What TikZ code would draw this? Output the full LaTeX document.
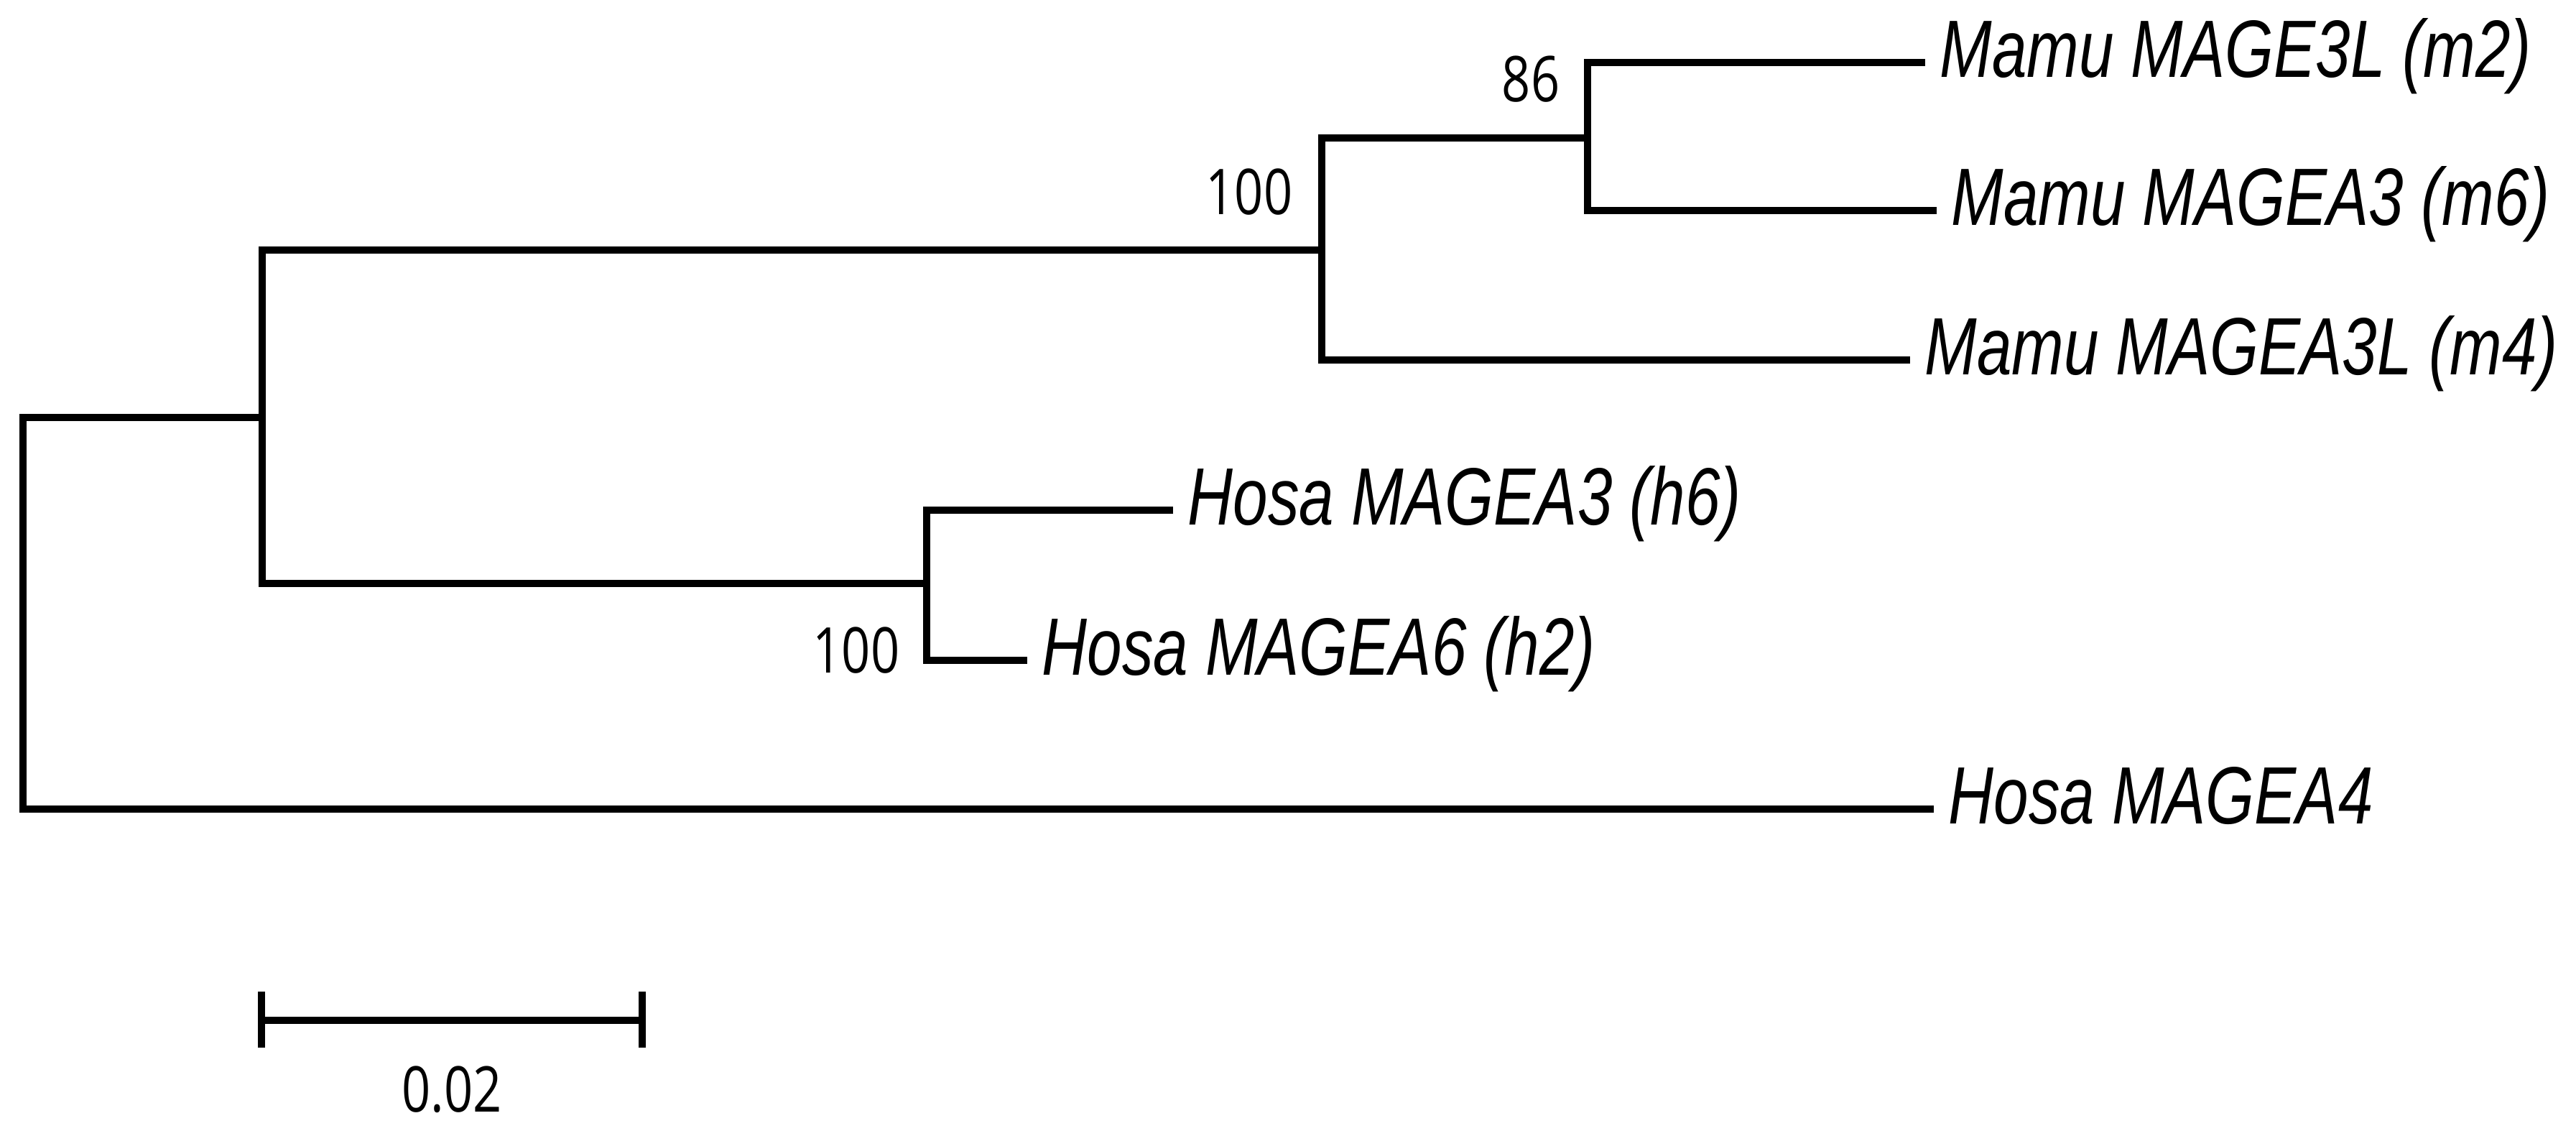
\documentclass[tikz,border=0pt]{standalone}
\usepackage{fontspec}
\usepackage{graphicx}
\usetikzlibrary{positioning}
\newfontfamily\leaffont{Liberation Sans}
\newfontfamily\bootfont{Open Sans}
\newcommand{\leafname}[1]{\scalebox{0.77}[1]{\leaffont\itshape\fontsize{32.2}{38}\selectfont #1}}
\newcommand{\bootval}[1]{\scalebox{0.8}[1]{\bootfont\fontsize{25}{30}\selectfont #1}}
\tikzstyle{branch} = [line width=2.6pt, draw=black]
\tikzstyle{leaf} = [anchor=west, inner xsep=0.2cm, inner ysep=0pt, text height=0.6cm, text depth=0.2cm]
\tikzstyle{boot} = [anchor=east, inner sep=0pt]

\begin{document}
\begin{tikzpicture}
            \useasboundingbox (0,0) rectangle (35.86,-15.73);
            % leaves
            \node (m2) [leaf] at (26.80,-0.87) {\leafname{Mamu MAGE3L (m2)}};
            \node (m6) [leaf] at (26.96,-2.93) {\leafname{Mamu MAGEA3 (m6)}};
            \node (m4) [leaf] at (26.59,-5.01) {\leafname{Mamu MAGEA3L (m4)}};
            \node (h6) [leaf] at (16.33,-7.10) {\leafname{Hosa MAGEA3 (h6)}};
            \node (h2) [leaf] at (14.30,-9.19) {\leafname{Hosa MAGEA6 (h2)}};
            \node (a4) [leaf] at (26.92,-11.26) {\leafname{Hosa MAGEA4}};
            % internal nodes
            \coordinate (mamuin) at (22.10,-1.92);
            \coordinate (mamu) at (18.40,-3.48);
            \coordinate (hosa) at (12.90,-8.12);
            \coordinate (ingroup) at (3.65,-5.81);
            \coordinate (root) at (0.32,-8.53);
            % branches
            \draw[branch] (m2.west) -| (mamuin) |- (m6.west);
            \draw[branch] (mamuin) -| (mamu) |- (m4.west);
            \draw[branch] (h6.west) -| (hosa) |- (h2.west);
            \draw[branch] (mamu) -| (ingroup) |- (hosa);
            \draw[branch] (ingroup) -| (root) |- (a4.west);
            % bootstrap values
            \node (b86) [boot] at (21.72,-1.10) {\bootval{86}};
            \node (bmamu) [boot] at (18.00,-2.67) {\bootval{100}};
            \node (bhosa) [boot] at (12.53,-9.05) {\bootval{100}};
            % scale bar
            \coordinate (sbL) at (3.64,-14.20);
            \coordinate (sbR) at (8.94,-14.20);
            \coordinate (sbM) at (6.29,-14.20);
            \draw[branch] (sbL) -- (sbR);
            \draw[branch] ([yshift=0.40cm]sbL) -- ([yshift=-0.38cm]sbL);
            \draw[branch] ([yshift=0.40cm]sbR) -- ([yshift=-0.38cm]sbR);
            \node (sblabel) [inner sep=0pt, below=0.63cm of sbM] {\bootval{0.02}};
        \end{tikzpicture}
\end{document}
